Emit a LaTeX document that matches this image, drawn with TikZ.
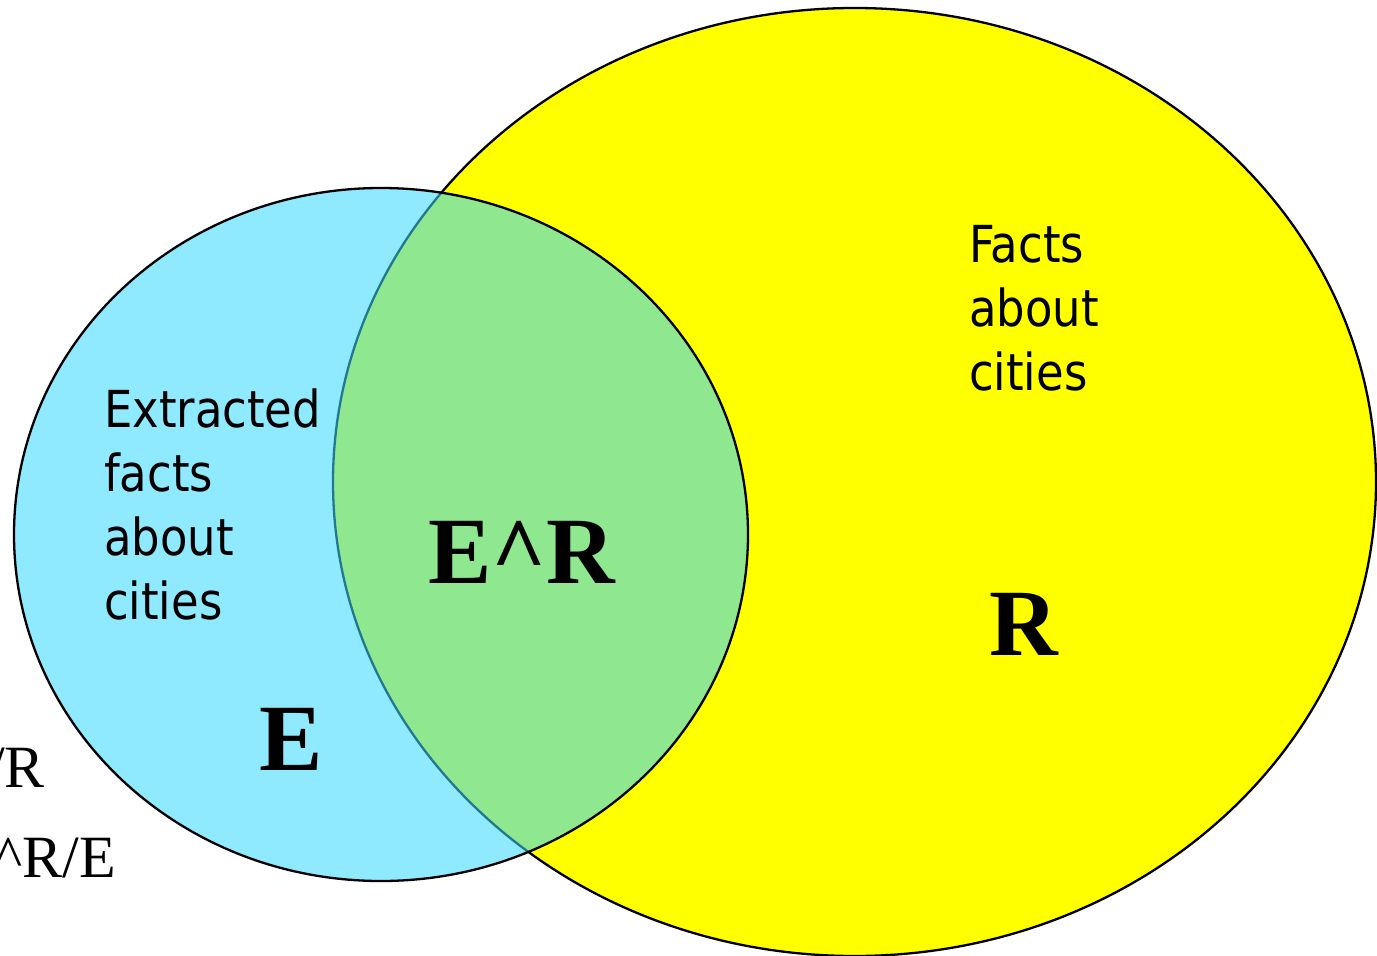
\documentclass[tikz,border=0pt]{standalone}
\usepackage{fontspec}
\setmainfont{Liberation Serif}
\newfontfamily\labelfont[FakeStretch=0.88]{DejaVu Sans}
\usetikzlibrary{shapes.geometric}
\definecolor{setyellow}{RGB}{255,255,0}
\definecolor{setblue}{RGB}{57,216,255}
\tikzset{
  setshape/.style={ellipse, draw=black, line width=2.3pt, inner sep=0pt, outer sep=0pt},
  desc/.style={font=\labelfont\fontsize{51}{64}\selectfont, align=left, anchor=north west, inner sep=0pt},
  setname/.style={font=\fontsize{95}{95}\selectfont\bfseries, anchor=base west, inner sep=0pt},
  formula/.style={font=\fontsize{60}{60}\selectfont, anchor=base east, inner sep=0pt}
}
\begin{document}
\begin{tikzpicture}[x=1pt,y=-1pt]
\useasboundingbox (0,0) rectangle (1377,956);
\node[setshape, fill=setyellow, minimum width=1043pt, minimum height=948pt] (R) at (854.5,482) {};
\node[setshape, fill=setblue, fill opacity=0.565, minimum width=734pt, minimum height=693pt] (E) at (381,534.5) {};
\node[desc] (etext) at (104,389) {Extracted\\facts\\about\\cities};
\node[desc] (rtext) at (969,225) {Facts\\about\\cities};
\node[setname] (ername) at (428,583) {E\textasciicircum R};
\node[setname] (rname) at (989,655) {R};
\node[setname] (ename) at (259,770) {E};
\node[formula] (f1) at (45,787) {/R};
\node[formula] (f2) at (116,877) {\textasciicircum R/E};
\end{tikzpicture}
\end{document}
